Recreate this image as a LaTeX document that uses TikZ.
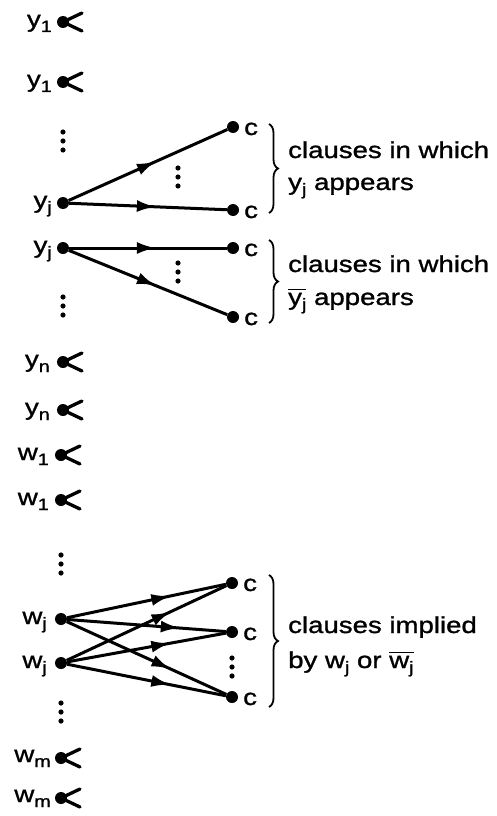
\documentclass[tikz,border=0pt]{standalone}
\usepackage{fontspec}
\setmainfont{Liberation Sans}[FakeStretch=1.2,FakeBold=1.2]
\usetikzlibrary{arrows.meta,decorations.markings,decorations.pathreplacing}
\newcommand\lsub[1]{\raisebox{-5pt}{\fontsize{16.5}{16.5}\selectfont #1}}
\newcommand\ovbar[1]{\vbox{\hrule height 1.8pt\kern 2.5pt\hbox{#1}}}
\begin{document}
\begin{tikzpicture}[x=1pt,y=-1pt,
  font=\fontsize{23}{28}\selectfont,
  dotnode/.style={circle,fill,inner sep=0pt,minimum size=12pt},
  lbl/.style={anchor=base east,inner sep=0pt},
  txt/.style={anchor=base west,inner sep=0pt},
  clabel/.style={anchor=base west,inner sep=0pt},
  conn/.style={line width=3pt},
  forkline/.style={line width=3.3pt,line cap=round},
  midarrow/.style={postaction={decorate},decoration={markings,mark=at position #1 with {\arrow{Latex[length=19pt,width=12pt]}}}},
  bracestyle/.style={decorate,decoration={brace,amplitude=9pt},line width=1.8pt},
  vd/.pic={\fill (0,-9) circle (2.6pt) (0,0) circle (2.6pt) (0,9) circle (2.6pt);}
]
\useasboundingbox (0,0) rectangle (496,816);

% left dots
\node[dotnode] (y1a) at (63,22) {};
\node[dotnode] (y1b) at (63,82) {};
\node[dotnode] (yja) at (63,203) {};
\node[dotnode] (yjb) at (63,248) {};
\node[dotnode] (yna) at (63,362) {};
\node[dotnode] (ynb) at (63,410) {};
\node[dotnode] (w1a) at (61,455) {};
\node[dotnode] (w1b) at (61,500) {};
\node[dotnode] (wja) at (61,619) {};
\node[dotnode] (wjb) at (61,663) {};
\node[dotnode] (wma) at (61,758) {};
\node[dotnode] (wmb) at (61,798) {};

% left labels
\node[lbl] (ly1a) at ([xshift=-11pt,yshift=-5pt]y1a.center) {y\lsub{1}};
\node[lbl] (ly1b) at ([xshift=-11pt,yshift=-5pt]y1b.center) {y\lsub{1}};
\node[lbl] (lyja) at ([xshift=-11pt,yshift=-5pt]yja.center) {y\lsub{j}};
\node[lbl] (lyjb) at ([xshift=-11pt,yshift=-5pt]yjb.center) {y\lsub{j}};
\node[lbl] (lyna) at ([xshift=-13pt,yshift=-5pt]yna.center) {y\lsub{n}};
\node[lbl] (lynb) at ([xshift=-13pt,yshift=-5pt]ynb.center) {y\lsub{n}};
\node[lbl] (lw1a) at ([xshift=-12pt,yshift=-5pt]w1a.center) {w\lsub{1}};
\node[lbl] (lw1b) at ([xshift=-12pt,yshift=-5pt]w1b.center) {w\lsub{1}};
\node[lbl] (lwja) at ([xshift=-14pt,yshift=-5pt]wja.center) {w\lsub{j}};
\node[lbl] (lwjb) at ([xshift=-14pt,yshift=-5pt]wjb.center) {w\lsub{j}};
\node[lbl] (lwma) at ([xshift=-10pt,yshift=-4pt]wma.center) {w\lsub{m}};
\node[lbl] (lwmb) at ([xshift=-10pt,yshift=-4pt]wmb.center) {w\lsub{m}};

% forks
\foreach \n in {y1a,y1b,yna,ynb,w1a,w1b,wma,wmb}{
  \draw[forkline] (\n.center) -- ++(19,-9) (\n.center) -- ++(19,9);
}

% clause dots
\node[dotnode] (c1) at (233,127) {};
\node[dotnode] (c2) at (233,210) {};
\node[dotnode] (c3) at (233,248) {};
\node[dotnode] (c4) at (233,317) {};
\node[dotnode] (d1) at (232,583) {};
\node[dotnode] (d2) at (232,632) {};
\node[dotnode] (d3) at (232,697) {};
\foreach \n in {c1,c2,c3,c4,d1,d2,d3}{
  \node[clabel] (l\n) at ([xshift=11pt,yshift=-8pt]\n.center) {c};
}

% edges
\draw[conn,midarrow=0.55] (yja) -- (c1);
\draw[conn,midarrow=0.55] (yja) -- (c2);
\draw[conn,midarrow=0.55] (yjb) -- (c3);
\draw[conn,midarrow=0.55] (yjb) -- (c4);
\draw[conn,midarrow=0.65] (wja) -- (d1);
\draw[conn,midarrow=0.71] (wja) -- (d2);
\draw[conn,midarrow=0.65] (wja) -- (d3);
\draw[conn,midarrow=0.65] (wjb) -- (d1);
\draw[conn,midarrow=0.65] (wjb) -- (d2);
\draw[conn,midarrow=0.65] (wjb) -- (d3);

% vertical dots
\pic at (63,141) {vd};
\pic at (178,177) {vd};
\pic at (178,272) {vd};
\pic at (63,306) {vd};
\pic at (61,564) {vd};
\pic at (232,667) {vd};
\pic at (61,712) {vd};

% braces
\draw[bracestyle] (269,124) -- (269,213);
\draw[bracestyle] (269,240) -- (269,323);
\draw[bracestyle] (269,575) -- (269,707);

% brace texts
\node[txt] (t1a) at (288,158) {clauses in which};
\node[txt] (t1b) at (288,190) {y\lsub{j} appears};
\node[txt] (t2a) at (288,272) {clauses in which};
\node[txt] (t2b) at (288,305) {\ovbar{y\lsub{j}} appears};
\node[txt] (t3a) at (288,633) {clauses implied};
\node[txt] (t3b) at (288,668) {by w\lsub{j} or \ovbar{w\lsub{j}}};
\end{tikzpicture}
\end{document}
